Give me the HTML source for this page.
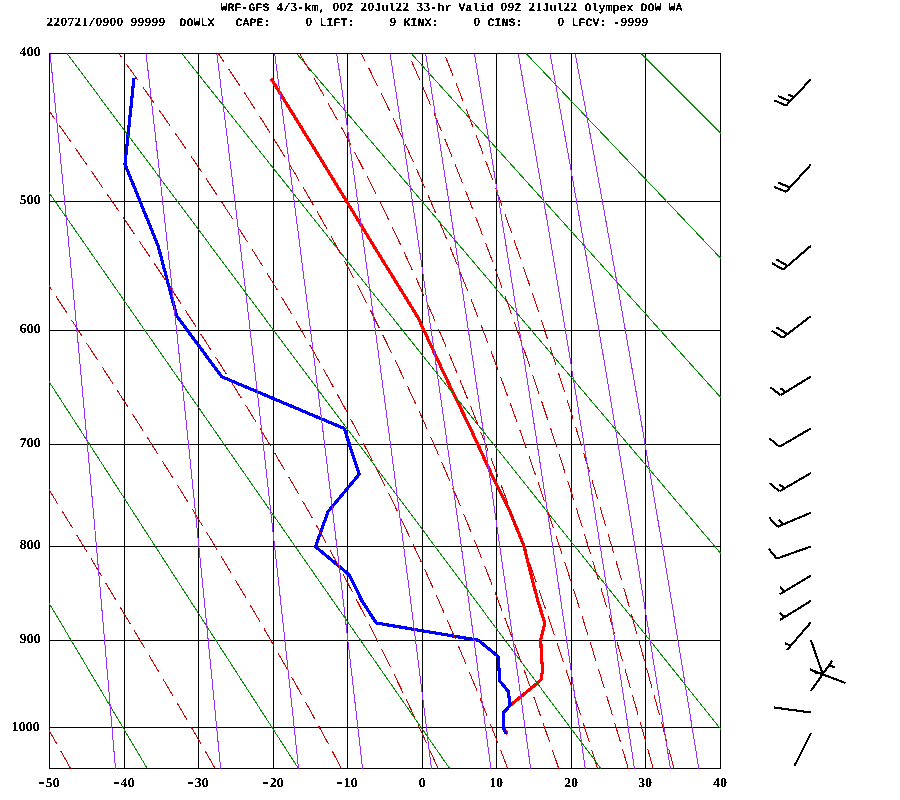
<!DOCTYPE html>
<html><head><meta charset="utf-8"><title>Sounding</title>
<style>
html,body{margin:0;padding:0;background:#fff;}
svg{display:block}
text{font-family:"Liberation Mono",monospace;font-weight:bold;font-size:11.5px;fill:#000;letter-spacing:-0.2px}
.d{font-family:"Liberation Serif",serif;font-size:12.6px;letter-spacing:0}
.D{font-family:"Liberation Serif",serif;font-size:13.5px;letter-spacing:0}
.g{text-rendering:geometricPrecision}
.h{font-size:16px;letter-spacing:0}
</style></head><body>
<svg width="900" height="800" viewBox="0 0 900 800" shape-rendering="crispEdges">
<defs><filter id="t" x="0" y="0" width="900" height="800" filterUnits="userSpaceOnUse" color-interpolation-filters="sRGB"><feComponentTransfer><feFuncA type="discrete" tableValues="0 0 1 1 1"/></feComponentTransfer></filter><clipPath id="c"><rect x="49" y="53" width="672" height="716"/></clipPath></defs>
<rect width="900" height="800" fill="#fff"/>
<rect x="49" y="53" width="1" height="716" fill="#000"/>
<rect x="124" y="53" width="1" height="716" fill="#000"/>
<rect x="198" y="53" width="1" height="716" fill="#000"/>
<rect x="273" y="53" width="1" height="716" fill="#000"/>
<rect x="347" y="53" width="1" height="716" fill="#000"/>
<rect x="422" y="53" width="1" height="716" fill="#000"/>
<rect x="496" y="53" width="1" height="716" fill="#000"/>
<rect x="571" y="53" width="1" height="716" fill="#000"/>
<rect x="645" y="53" width="1" height="716" fill="#000"/>
<rect x="720" y="53" width="1" height="716" fill="#000"/>
<rect x="49" y="53" width="672" height="1" fill="#000"/>
<rect x="49" y="201" width="672" height="1" fill="#000"/>
<rect x="49" y="330" width="672" height="1" fill="#000"/>
<rect x="49" y="444" width="672" height="1" fill="#000"/>
<rect x="49" y="546" width="672" height="1" fill="#000"/>
<rect x="49" y="640" width="672" height="1" fill="#000"/>
<rect x="49" y="727" width="672" height="1" fill="#000"/>
<rect x="49" y="768" width="672" height="1" fill="#000"/>
<polyline points="271,78.5 324,164.25 373.5,245.5 418,317.5 445.5,376.75 470.5,428.5 491.5,474.25 510,511.75 524.25,546.75 531,574.75 537.8,600.5 544.8,623.25 540.75,639.9 541.5,656.75 542.6,669.9 541.1,679.25 536.5,683.9 521.5,696.1 510.2,705.5 503.25,712.6 503.25,728 507.4,734" stroke="#ff0000" stroke-width="3.2" fill="none" stroke-linejoin="round"/>
<polyline points="134,78 125,164.25 158,245.5 176.75,316 221.75,376.75 344.25,428.5 359.25,474.25 328,511.75 315.5,546.75 349.25,574.75 361.75,600.5 376.25,623 478.3,640.25 498,656.4 499.9,681.1 508.3,691.4 510.2,705.5 503.25,712.6 503.25,728 506.4,734" stroke="#0000ff" stroke-width="3.2" fill="none" stroke-linejoin="round"/>
<g clip-path="url(#c)">
<polyline points="-391.95,53.6 -3.88,768.6" stroke="#008b00" stroke-width="1" fill="none"/>
<polyline points="-277.18,53.6 147.32,768.6" stroke="#008b00" stroke-width="1" fill="none"/>
<polyline points="-162.42,53.6 298.53,768.6" stroke="#008b00" stroke-width="1" fill="none"/>
<polyline points="-47.65,53.6 449.73,768.6" stroke="#008b00" stroke-width="1" fill="none"/>
<polyline points="67.11,53.6 600.94,768.6" stroke="#008b00" stroke-width="1" fill="none"/>
<polyline points="181.88,53.6 752.14,768.6" stroke="#008b00" stroke-width="1" fill="none"/>
<polyline points="296.64,53.6 903.34,768.6" stroke="#008b00" stroke-width="1" fill="none"/>
<polyline points="411.41,53.6 1054.55,768.6" stroke="#008b00" stroke-width="1" fill="none"/>
<polyline points="526.18,53.6 1205.75,768.6" stroke="#008b00" stroke-width="1" fill="none"/>
<polyline points="640.94,53.6 1356.96,768.6" stroke="#008b00" stroke-width="1" fill="none"/>
<polyline points="755.71,53.6 1508.16,768.6" stroke="#008b00" stroke-width="1" fill="none"/>
<polyline points="870.47,53.6 1659.37,768.6" stroke="#008b00" stroke-width="1" fill="none"/>
<polyline points="985.24,53.6 1810.57,768.6" stroke="#008b00" stroke-width="1" fill="none"/>
<polyline points="70.63,768.6 66.09,760.5 61.51,752.34 56.9,744.13 52.26,735.86 47.57,727.53 42.86,719.14 38.1,710.69 33.31,702.18 28.48,693.6 23.61,684.96 18.7,676.26 13.75,667.49 8.77,658.65 3.74,649.74 -1.33,640.76 -6.45,631.71 -11.6,622.59 -16.8,613.39 -22.05,604.12 -27.34,594.77 -32.67,585.34 -38.06,575.84 -43.49,566.24 -48.97,556.57 -54.5,546.81 -60.08,536.96 -65.71,527.02 -71.39,516.99 -77.13,506.87 -82.93,496.65 -88.78,486.34 -94.69,475.92 -100.66,465.4 -106.68,454.78 -112.77,444.05 -118.93,433.21 -125.14,422.25 -131.43,411.18 -137.78,400 -144.2,388.69 -150.69,377.25 -157.26,365.69 -163.9,353.99 -170.62,342.16 -177.42,330.19 -184.3,318.08 -191.26,305.82 -198.31,293.41 -205.45,280.84 -212.69,268.11 -220.01,255.21 -227.44,242.14 -234.96,228.9 -242.59,215.47 -250.33,201.85 -258.18,188.04 -266.15,174.02 -274.23,159.79 -282.44,145.34 -290.77,130.67 -299.24,115.77 -307.85,100.62 -316.61,85.21 -325.51,69.54 -334.57,53.6" stroke="#cd0000" stroke-width="1" fill="none" stroke-dasharray="20 8"/>
<polyline points="215.22,768.6 210.57,760.5 205.87,752.34 201.12,744.13 196.33,735.86 191.48,727.53 186.6,719.14 181.66,710.69 176.67,702.18 171.64,693.6 166.55,684.96 161.41,676.26 156.23,667.49 150.99,658.65 145.7,649.74 140.35,640.76 134.96,631.71 129.51,622.59 124,613.39 118.44,604.12 112.82,594.77 107.14,585.34 101.41,575.84 95.62,566.24 89.77,556.57 83.86,546.81 77.89,536.96 71.85,527.02 65.75,516.99 59.59,506.87 53.36,496.65 47.07,486.34 40.71,475.92 34.28,465.4 27.77,454.78 21.2,444.05 14.56,433.21 7.84,422.25 1.04,411.18 -5.83,400 -12.79,388.69 -19.82,377.25 -26.94,365.69 -34.14,353.99 -41.43,342.16 -48.81,330.19 -56.28,318.08 -63.84,305.82 -71.51,293.41 -79.27,280.84 -87.13,268.11 -95.09,255.21 -103.17,242.14 -111.36,228.9 -119.66,215.47 -128.08,201.85 -136.62,188.04 -145.29,174.02 -154.1,159.79 -163.03,145.34 -172.11,130.67 -181.34,115.77 -190.71,100.62 -200.25,85.21 -209.95,69.54 -219.81,53.6" stroke="#cd0000" stroke-width="1" fill="none" stroke-dasharray="20 8"/>
<polyline points="341.46,768.6 337.19,760.5 332.86,752.34 328.48,744.13 324.04,735.86 319.53,727.53 314.97,719.14 310.34,710.69 305.66,702.18 300.91,693.6 296.09,684.96 291.21,676.26 286.26,667.49 281.25,658.65 276.16,649.74 271.01,640.76 265.79,631.71 260.49,622.59 255.12,613.39 249.67,604.12 244.15,594.77 238.56,585.34 232.88,575.84 227.13,566.24 221.3,556.57 215.39,546.81 209.39,536.96 203.31,527.02 197.15,516.99 190.9,506.87 184.56,496.65 178.14,486.34 171.63,475.92 165.02,465.4 158.33,454.78 151.54,444.05 144.65,433.21 137.68,422.25 130.6,411.18 123.42,400 116.15,388.69 108.77,377.25 101.29,365.69 93.7,353.99 86.01,342.16 78.2,330.19 70.29,318.08 62.26,305.82 54.12,293.41 45.85,280.84 37.47,268.11 28.96,255.21 20.33,242.14 11.57,228.9 2.67,215.47 -6.36,201.85 -15.54,188.04 -24.86,174.02 -34.32,159.79 -43.94,145.34 -53.72,130.67 -63.66,115.77 -73.77,100.62 -84.06,85.21 -94.52,69.54 -105.18,53.6" stroke="#cd0000" stroke-width="1" fill="none" stroke-dasharray="20 8"/>
<polyline points="438.08,768.6 434.45,760.5 430.76,752.34 427.03,744.13 423.23,735.86 419.39,727.53 415.48,719.14 411.52,710.69 407.5,702.18 403.41,693.6 399.26,684.96 395.05,676.26 390.77,667.49 386.42,658.65 382,649.74 377.51,640.76 372.95,631.71 368.31,622.59 363.59,613.39 358.79,604.12 353.91,594.77 348.94,585.34 343.89,575.84 338.75,566.24 333.52,556.57 328.2,546.81 322.78,536.96 317.27,527.02 311.65,516.99 305.93,506.87 300.11,496.65 294.17,486.34 288.13,475.92 281.97,465.4 275.7,454.78 269.31,444.05 262.8,433.21 256.17,422.25 249.41,411.18 242.52,400 235.49,388.69 228.34,377.25 221.04,365.69 213.61,353.99 206.03,342.16 198.31,330.19 190.44,318.08 182.42,305.82 174.25,293.41 165.91,280.84 157.42,268.11 148.77,255.21 139.95,242.14 130.96,228.9 121.81,215.47 112.47,201.85 102.96,188.04 93.27,174.02 83.39,159.79 73.32,145.34 63.05,130.67 52.59,115.77 41.92,100.62 31.05,85.21 19.96,69.54 8.65,53.6" stroke="#cd0000" stroke-width="1" fill="none" stroke-dasharray="20 8"/>
<polyline points="507.73,768.6 504.62,760.5 501.47,752.34 498.27,744.13 495.04,735.86 491.75,727.53 488.42,719.14 485.04,710.69 481.62,702.18 478.14,693.6 474.61,684.96 471.03,676.26 467.39,667.49 463.7,658.65 459.94,649.74 456.13,640.76 452.26,631.71 448.32,622.59 444.31,613.39 440.24,604.12 436.1,594.77 431.89,585.34 427.6,575.84 423.23,566.24 418.78,556.57 414.26,546.81 409.64,536.96 404.94,527.02 400.15,516.99 395.26,506.87 390.28,496.65 385.19,486.34 380.01,475.92 374.71,465.4 369.3,454.78 363.78,444.05 358.13,433.21 352.37,422.25 346.47,411.18 340.44,400 334.27,388.69 327.96,377.25 321.5,365.69 314.89,353.99 308.12,342.16 301.19,330.19 294.09,318.08 286.81,305.82 279.35,293.41 271.7,280.84 263.86,268.11 255.82,255.21 247.58,242.14 239.12,228.9 230.45,215.47 221.55,201.85 212.42,188.04 203.05,174.02 193.44,159.79 183.58,145.34 173.46,130.67 163.08,115.77 152.44,100.62 141.51,85.21 130.31,69.54 118.82,53.6" stroke="#cd0000" stroke-width="1" fill="none" stroke-dasharray="20 8"/>
<polyline points="558.75,768.6 555.99,760.5 553.2,752.34 550.37,744.13 547.5,735.86 544.6,727.53 541.66,719.14 538.69,710.69 535.67,702.18 532.61,693.6 529.51,684.96 526.37,676.26 523.18,667.49 519.95,658.65 516.67,649.74 513.35,640.76 509.97,631.71 506.54,622.59 503.06,613.39 499.52,604.12 495.93,594.77 492.28,585.34 488.57,575.84 484.79,566.24 480.95,556.57 477.05,546.81 473.08,536.96 469.03,527.02 464.92,516.99 460.72,506.87 456.45,496.65 452.09,486.34 447.65,475.92 443.13,465.4 438.5,454.78 433.79,444.05 428.97,433.21 424.05,422.25 419.02,411.18 413.88,400 408.63,388.69 403.25,377.25 397.74,365.69 392.11,353.99 386.33,342.16 380.4,330.19 374.33,318.08 368.1,305.82 361.7,293.41 355.13,280.84 348.37,268.11 341.43,255.21 334.29,242.14 326.93,228.9 319.36,215.47 311.56,201.85 303.52,188.04 295.23,174.02 286.67,159.79 277.84,145.34 268.73,130.67 259.31,115.77 249.57,100.62 239.51,85.21 229.11,69.54 218.35,53.6" stroke="#cd0000" stroke-width="1" fill="none" stroke-dasharray="20 8"/>
<polyline points="597.59,768.6 595.06,760.5 592.5,752.34 589.92,744.13 587.3,735.86 584.65,727.53 581.97,719.14 579.26,710.69 576.51,702.18 573.73,693.6 570.92,684.96 568.07,676.26 565.18,667.49 562.25,658.65 559.28,649.74 556.28,640.76 553.23,631.71 550.14,622.59 547.01,613.39 543.83,604.12 540.6,594.77 537.33,585.34 534.01,575.84 530.63,566.24 527.2,556.57 523.72,546.81 520.19,536.96 516.59,527.02 512.93,516.99 509.21,506.87 505.43,496.65 501.58,486.34 497.66,475.92 493.67,465.4 489.61,454.78 485.46,444.05 481.24,433.21 476.93,422.25 472.54,411.18 468.05,400 463.47,388.69 458.79,377.25 454.01,365.69 449.12,353.99 444.12,342.16 439,330.19 433.75,318.08 428.38,305.82 422.87,293.41 417.22,280.84 411.42,268.11 405.46,255.21 399.34,242.14 393.04,228.9 386.56,215.47 379.89,201.85 373,188.04 365.91,174.02 358.58,159.79 351.01,145.34 343.18,130.67 335.07,115.77 326.68,100.62 317.98,85.21 308.95,69.54 299.57,53.6" stroke="#cd0000" stroke-width="1" fill="none" stroke-dasharray="20 8"/>
<polyline points="628.27,768.6 625.89,760.5 623.5,752.34 621.07,744.13 618.62,735.86 616.15,727.53 613.64,719.14 611.11,710.69 608.55,702.18 605.95,693.6 603.33,684.96 600.68,676.26 597.99,667.49 595.27,658.65 592.51,649.74 589.72,640.76 586.9,631.71 584.04,622.59 581.14,613.39 578.2,604.12 575.22,594.77 572.2,585.34 569.14,575.84 566.03,566.24 562.88,556.57 559.68,546.81 556.43,536.96 553.14,527.02 549.79,516.99 546.39,506.87 542.94,496.65 539.43,486.34 535.86,475.92 532.23,465.4 528.54,454.78 524.78,444.05 520.96,433.21 517.06,422.25 513.09,411.18 509.05,400 504.93,388.69 500.73,377.25 496.44,365.69 492.06,353.99 487.59,342.16 483.03,330.19 478.36,318.08 473.59,305.82 468.7,293.41 463.7,280.84 458.58,268.11 453.33,255.21 447.94,242.14 442.41,228.9 436.73,215.47 430.9,201.85 424.89,188.04 418.71,174.02 412.35,159.79 405.78,145.34 399,130.67 392,115.77 384.76,100.62 377.26,85.21 369.49,69.54 361.43,53.6" stroke="#cd0000" stroke-width="1" fill="none" stroke-dasharray="20 8"/>
<polyline points="653.24,768.6 650.97,760.5 648.69,752.34 646.38,744.13 644.05,735.86 641.7,727.53 639.31,719.14 636.91,710.69 634.47,702.18 632.01,693.6 629.52,684.96 627.01,676.26 624.46,667.49 621.88,658.65 619.28,649.74 616.64,640.76 613.97,631.71 611.27,622.59 608.53,613.39 605.76,604.12 602.95,594.77 600.11,585.34 597.22,575.84 594.3,566.24 591.34,556.57 588.34,546.81 585.3,536.96 582.21,527.02 579.07,516.99 575.89,506.87 572.67,496.65 569.39,486.34 566.06,475.92 562.68,465.4 559.24,454.78 555.75,444.05 552.2,433.21 548.59,422.25 544.91,411.18 541.17,400 537.37,388.69 533.49,377.25 529.54,365.69 525.51,353.99 521.4,342.16 517.21,330.19 512.94,318.08 508.57,305.82 504.11,293.41 499.56,280.84 494.9,268.11 490.13,255.21 485.25,242.14 480.25,228.9 475.12,215.47 469.86,201.85 464.47,188.04 458.93,174.02 453.23,159.79 447.37,145.34 441.34,130.67 435.12,115.77 428.7,100.62 422.07,85.21 415.23,69.54 408.14,53.6" stroke="#cd0000" stroke-width="1" fill="none" stroke-dasharray="20 8"/>
<polyline points="674.05,768.6 671.87,760.5 669.67,752.34 667.45,744.13 665.21,735.86 662.94,727.53 660.65,719.14 658.33,710.69 655.99,702.18 653.63,693.6 651.23,684.96 648.82,676.26 646.37,667.49 643.9,658.65 641.4,649.74 638.88,640.76 636.32,631.71 633.73,622.59 631.11,613.39 628.46,604.12 625.78,594.77 623.06,585.34 620.31,575.84 617.52,566.24 614.69,556.57 611.83,546.81 608.93,536.96 605.99,527.02 603.01,516.99 599.99,506.87 596.92,496.65 593.81,486.34 590.65,475.92 587.45,465.4 584.19,454.78 580.89,444.05 577.53,433.21 574.12,422.25 570.65,411.18 567.12,400 563.54,388.69 559.89,377.25 556.17,365.69 552.39,353.99 548.54,342.16 544.61,330.19 540.61,318.08 536.53,305.82 532.37,293.41 528.12,280.84 523.78,268.11 519.35,255.21 514.82,242.14 510.18,228.9 505.44,215.47 500.59,201.85 495.61,188.04 490.51,174.02 485.28,159.79 479.91,145.34 474.39,130.67 468.71,115.77 462.86,100.62 456.84,85.21 450.64,69.54 444.23,53.6" stroke="#cd0000" stroke-width="1" fill="none" stroke-dasharray="20 8"/>
<polyline points="50.11,53.6 51.71,69.54 53.28,85.21 54.81,100.62 56.31,115.77 57.78,130.67 59.22,145.34 60.64,159.79 62.02,174.02 63.38,188.04 64.72,201.85 66.03,215.47 67.32,228.9 68.58,242.14 69.82,255.21 71.05,268.11 72.25,280.84 73.43,293.41 74.6,305.82 75.74,318.08 76.87,330.19 77.98,342.16 79.08,353.99 80.16,365.69 81.22,377.25 82.27,388.69 83.31,400 84.33,411.18 85.33,422.25 86.33,433.21 87.31,444.05 88.27,454.78 89.23,465.4 90.17,475.92 91.1,486.34 92.02,496.65 92.93,506.87 93.83,516.99 94.72,527.02 95.59,536.96 96.46,546.81 97.32,556.57 98.16,566.24 99,575.84 99.83,585.34 100.65,594.77 101.46,604.12 102.27,613.39 103.06,622.59 103.85,631.71 104.62,640.76 105.4,649.74 106.16,658.65 106.91,667.49 107.66,676.26 108.4,684.96 109.14,693.6 109.86,702.18 110.58,710.69 111.3,719.14 112,727.53 112.7,735.86 113.4,744.13 114.09,752.34 114.77,760.5 115.44,768.6" stroke="#9b2ff8" stroke-width="1" fill="none"/>
<polyline points="146.08,53.6 147.9,69.54 149.68,85.21 151.43,100.62 153.14,115.77 154.81,130.67 156.45,145.34 158.06,159.79 159.64,174.02 161.19,188.04 162.71,201.85 164.2,215.47 165.67,228.9 167.11,242.14 168.52,255.21 169.92,268.11 171.29,280.84 172.64,293.41 173.96,305.82 175.27,318.08 176.56,330.19 177.83,342.16 179.07,353.99 180.31,365.69 181.52,377.25 182.72,388.69 183.9,400 185.06,411.18 186.21,422.25 187.34,433.21 188.46,444.05 189.56,454.78 190.65,465.4 191.73,475.92 192.79,486.34 193.84,496.65 194.88,506.87 195.91,516.99 196.92,527.02 197.92,536.96 198.91,546.81 199.89,556.57 200.86,566.24 201.82,575.84 202.76,585.34 203.7,594.77 204.63,604.12 205.55,613.39 206.45,622.59 207.35,631.71 208.24,640.76 209.12,649.74 210,658.65 210.86,667.49 211.71,676.26 212.56,684.96 213.4,693.6 214.23,702.18 215.05,710.69 215.87,719.14 216.68,727.53 217.48,735.86 218.27,744.13 219.06,752.34 219.84,760.5 220.62,768.6" stroke="#9b2ff8" stroke-width="1" fill="none"/>
<polyline points="216.78,53.6 218.78,69.54 220.73,85.21 222.64,100.62 224.51,115.77 226.34,130.67 228.14,145.34 229.9,159.79 231.63,174.02 233.32,188.04 234.99,201.85 236.62,215.47 238.23,228.9 239.81,242.14 241.36,255.21 242.89,268.11 244.39,280.84 245.86,293.41 247.32,305.82 248.75,318.08 250.16,330.19 251.55,342.16 252.92,353.99 254.27,365.69 255.6,377.25 256.91,388.69 258.21,400 259.48,411.18 260.74,422.25 261.98,433.21 263.21,444.05 264.42,454.78 265.62,465.4 266.8,475.92 267.96,486.34 269.12,496.65 270.25,506.87 271.38,516.99 272.49,527.02 273.59,536.96 274.68,546.81 275.75,556.57 276.81,566.24 277.87,575.84 278.91,585.34 279.93,594.77 280.95,604.12 281.96,613.39 282.96,622.59 283.94,631.71 284.92,640.76 285.89,649.74 286.84,658.65 287.79,667.49 288.73,676.26 289.66,684.96 290.58,693.6 291.5,702.18 292.4,710.69 293.3,719.14 294.19,727.53 295.07,735.86 295.94,744.13 296.8,752.34 297.66,760.5 298.51,768.6" stroke="#9b2ff8" stroke-width="1" fill="none"/>
<polyline points="274.67,53.6 276.81,69.54 278.9,85.21 280.95,100.62 282.96,115.77 284.93,130.67 286.86,145.34 288.75,159.79 290.6,174.02 292.42,188.04 294.21,201.85 295.97,215.47 297.69,228.9 299.39,242.14 301.06,255.21 302.7,268.11 304.31,280.84 305.9,293.41 307.46,305.82 309,318.08 310.52,330.19 312.01,342.16 313.48,353.99 314.93,365.69 316.36,377.25 317.77,388.69 319.16,400 320.54,411.18 321.89,422.25 323.23,433.21 324.54,444.05 325.85,454.78 327.13,465.4 328.4,475.92 329.66,486.34 330.9,496.65 332.12,506.87 333.33,516.99 334.53,527.02 335.71,536.96 336.88,546.81 338.04,556.57 339.18,566.24 340.31,575.84 341.43,585.34 342.54,594.77 343.63,604.12 344.72,613.39 345.79,622.59 346.85,631.71 347.9,640.76 348.94,649.74 349.98,658.65 351,667.49 352.01,676.26 353.01,684.96 354,693.6 354.98,702.18 355.96,710.69 356.92,719.14 357.88,727.53 358.83,735.86 359.77,744.13 360.7,752.34 361.62,760.5 362.54,768.6" stroke="#9b2ff8" stroke-width="1" fill="none"/>
<polyline points="336.72,53.6 339.02,69.54 341.28,85.21 343.48,100.62 345.64,115.77 347.76,130.67 349.84,145.34 351.87,159.79 353.87,174.02 355.83,188.04 357.75,201.85 359.65,215.47 361.5,228.9 363.33,242.14 365.13,255.21 366.89,268.11 368.63,280.84 370.34,293.41 372.03,305.82 373.68,318.08 375.32,330.19 376.93,342.16 378.51,353.99 380.08,365.69 381.62,377.25 383.14,388.69 384.64,400 386.12,411.18 387.57,422.25 389.02,433.21 390.44,444.05 391.84,454.78 393.23,465.4 394.6,475.92 395.95,486.34 397.29,496.65 398.61,506.87 399.91,516.99 401.2,527.02 402.48,536.96 403.74,546.81 404.99,556.57 406.22,566.24 407.44,575.84 408.65,585.34 409.84,594.77 411.03,604.12 412.2,613.39 413.35,622.59 414.5,631.71 415.64,640.76 416.76,649.74 417.87,658.65 418.98,667.49 420.07,676.26 421.15,684.96 422.22,693.6 423.28,702.18 424.33,710.69 425.37,719.14 426.41,727.53 427.43,735.86 428.45,744.13 429.45,752.34 430.45,760.5 431.44,768.6" stroke="#9b2ff8" stroke-width="1" fill="none"/>
<polyline points="390.08,53.6 392.52,69.54 394.92,85.21 397.26,100.62 399.56,115.77 401.81,130.67 404.02,145.34 406.18,159.79 408.3,174.02 410.39,188.04 412.43,201.85 414.45,215.47 416.42,228.9 418.36,242.14 420.27,255.21 422.15,268.11 424,280.84 425.82,293.41 427.61,305.82 429.38,318.08 431.12,330.19 432.83,342.16 434.52,353.99 436.18,365.69 437.82,377.25 439.44,388.69 441.04,400 442.61,411.18 444.16,422.25 445.7,433.21 447.21,444.05 448.71,454.78 450.18,465.4 451.64,475.92 453.08,486.34 454.5,496.65 455.91,506.87 457.3,516.99 458.68,527.02 460.03,536.96 461.38,546.81 462.71,556.57 464.02,566.24 465.32,575.84 466.61,585.34 467.88,594.77 469.14,604.12 470.39,613.39 471.62,622.59 472.84,631.71 474.05,640.76 475.25,649.74 476.44,658.65 477.61,667.49 478.77,676.26 479.93,684.96 481.07,693.6 482.2,702.18 483.32,710.69 484.43,719.14 485.53,727.53 486.62,735.86 487.7,744.13 488.78,752.34 489.84,760.5 490.89,768.6" stroke="#9b2ff8" stroke-width="1" fill="none"/>
<polyline points="425.66,53.6 428.2,69.54 430.69,85.21 433.13,100.62 435.52,115.77 437.86,130.67 440.16,145.34 442.41,159.79 444.62,174.02 446.79,188.04 448.92,201.85 451.02,215.47 453.07,228.9 455.09,242.14 457.08,255.21 459.04,268.11 460.96,280.84 462.86,293.41 464.72,305.82 466.56,318.08 468.37,330.19 470.15,342.16 471.91,353.99 473.64,365.69 475.35,377.25 477.04,388.69 478.7,400 480.34,411.18 481.96,422.25 483.56,433.21 485.13,444.05 486.69,454.78 488.23,465.4 489.75,475.92 491.25,486.34 492.73,496.65 494.2,506.87 495.64,516.99 497.08,527.02 498.49,536.96 499.89,546.81 501.28,556.57 502.65,566.24 504,575.84 505.34,585.34 506.67,594.77 507.98,604.12 509.28,613.39 510.57,622.59 511.84,631.71 513.1,640.76 514.35,649.74 515.58,658.65 516.81,667.49 518.02,676.26 519.22,684.96 520.41,693.6 521.59,702.18 522.76,710.69 523.92,719.14 525.07,727.53 526.2,735.86 527.33,744.13 528.45,752.34 529.56,760.5 530.66,768.6" stroke="#9b2ff8" stroke-width="1" fill="none"/>
<polyline points="474.42,53.6 477.11,69.54 479.74,85.21 482.31,100.62 484.83,115.77 487.3,130.67 489.72,145.34 492.09,159.79 494.43,174.02 496.71,188.04 498.96,201.85 501.17,215.47 503.34,228.9 505.48,242.14 507.57,255.21 509.64,268.11 511.67,280.84 513.67,293.41 515.64,305.82 517.58,318.08 519.49,330.19 521.37,342.16 523.23,353.99 525.06,365.69 526.86,377.25 528.64,388.69 530.39,400 532.13,411.18 533.83,422.25 535.52,433.21 537.19,444.05 538.83,454.78 540.46,465.4 542.06,475.92 543.65,486.34 545.21,496.65 546.76,506.87 548.29,516.99 549.8,527.02 551.3,536.96 552.78,546.81 554.24,556.57 555.69,566.24 557.12,575.84 558.54,585.34 559.94,594.77 561.33,604.12 562.7,613.39 564.06,622.59 565.41,631.71 566.74,640.76 568.06,649.74 569.36,658.65 570.66,667.49 571.94,676.26 573.21,684.96 574.47,693.6 575.72,702.18 576.95,710.69 578.18,719.14 579.39,727.53 580.59,735.86 581.79,744.13 582.97,752.34 584.14,760.5 585.3,768.6" stroke="#9b2ff8" stroke-width="1" fill="none"/>
<polyline points="518.15,53.6 520.97,69.54 523.72,85.21 526.41,100.62 529.05,115.77 531.64,130.67 534.18,145.34 536.67,159.79 539.11,174.02 541.51,188.04 543.86,201.85 546.18,215.47 548.45,228.9 550.69,242.14 552.89,255.21 555.05,268.11 557.18,280.84 559.28,293.41 561.35,305.82 563.38,318.08 565.38,330.19 567.36,342.16 569.3,353.99 571.22,365.69 573.11,377.25 574.98,388.69 576.82,400 578.63,411.18 580.43,422.25 582.2,433.21 583.94,444.05 585.67,454.78 587.37,465.4 589.06,475.92 590.72,486.34 592.36,496.65 593.99,506.87 595.59,516.99 597.18,527.02 598.75,536.96 600.3,546.81 601.84,556.57 603.36,566.24 604.86,575.84 606.35,585.34 607.82,594.77 609.27,604.12 610.72,613.39 612.14,622.59 613.56,631.71 614.95,640.76 616.34,649.74 617.71,658.65 619.07,667.49 620.42,676.26 621.75,684.96 623.07,693.6 624.38,702.18 625.68,710.69 626.96,719.14 628.24,727.53 629.5,735.86 630.75,744.13 632,752.34 633.23,760.5 634.45,768.6" stroke="#9b2ff8" stroke-width="1" fill="none"/>
<polyline points="550.04,53.6 552.94,69.54 555.79,85.21 558.57,100.62 561.3,115.77 563.98,130.67 566.6,145.34 569.18,159.79 571.7,174.02 574.18,188.04 576.62,201.85 579.01,215.47 581.36,228.9 583.68,242.14 585.95,255.21 588.19,268.11 590.39,280.84 592.56,293.41 594.7,305.82 596.8,318.08 598.87,330.19 600.91,342.16 602.93,353.99 604.91,365.69 606.87,377.25 608.8,388.69 610.7,400 612.58,411.18 614.44,422.25 616.27,433.21 618.08,444.05 619.86,454.78 621.63,465.4 623.37,475.92 625.09,486.34 626.79,496.65 628.47,506.87 630.14,516.99 631.78,527.02 633.4,536.96 635.01,546.81 636.6,556.57 638.17,566.24 639.73,575.84 641.27,585.34 642.79,594.77 644.3,604.12 645.79,613.39 647.27,622.59 648.73,631.71 650.18,640.76 651.61,649.74 653.03,658.65 654.44,667.49 655.83,676.26 657.21,684.96 658.58,693.6 659.94,702.18 661.28,710.69 662.61,719.14 663.93,727.53 665.24,735.86 666.54,744.13 667.83,752.34 669.1,760.5 670.37,768.6" stroke="#9b2ff8" stroke-width="1" fill="none"/>
<polyline points="575.19,53.6 578.18,69.54 581.09,85.21 583.95,100.62 586.75,115.77 589.5,130.67 592.19,145.34 594.83,159.79 597.43,174.02 599.97,188.04 602.47,201.85 604.93,215.47 607.34,228.9 609.72,242.14 612.05,255.21 614.35,268.11 616.61,280.84 618.84,293.41 621.03,305.82 623.19,318.08 625.32,330.19 627.42,342.16 629.48,353.99 631.52,365.69 633.53,377.25 635.51,388.69 637.47,400 639.4,411.18 641.3,422.25 643.18,433.21 645.04,444.05 646.87,454.78 648.68,465.4 650.47,475.92 652.24,486.34 653.99,496.65 655.72,506.87 657.42,516.99 659.11,527.02 660.78,536.96 662.43,546.81 664.06,556.57 665.68,566.24 667.28,575.84 668.86,585.34 670.42,594.77 671.97,604.12 673.5,613.39 675.02,622.59 676.52,631.71 678.01,640.76 679.49,649.74 680.95,658.65 682.39,667.49 683.82,676.26 685.24,684.96 686.65,693.6 688.04,702.18 689.42,710.69 690.79,719.14 692.15,727.53 693.49,735.86 694.82,744.13 696.15,752.34 697.46,760.5 698.76,768.6" stroke="#9b2ff8" stroke-width="1" fill="none"/>
</g>
<polyline points="810.9,79.25 786.1,105.5" stroke="#000" stroke-width="2.1" fill="none"/>
<polyline points="786.1,105.5 774.17,100.34" stroke="#000" stroke-width="2.1" fill="none"/>
<polyline points="790.08,101.28 778.15,96.13" stroke="#000" stroke-width="2.1" fill="none"/>
<polyline points="794.07,97.07 788.1,94.49" stroke="#000" stroke-width="2.1" fill="none"/>
<polyline points="810.9,164.5 786.1,191.75" stroke="#000" stroke-width="2.1" fill="none"/>
<polyline points="786.1,191.75 774.07,186.82" stroke="#000" stroke-width="2.1" fill="none"/>
<polyline points="790,187.46 777.98,182.53" stroke="#000" stroke-width="2.1" fill="none"/>
<polyline points="810.9,245.8 783.3,269.6" stroke="#000" stroke-width="2.1" fill="none"/>
<polyline points="783.3,269.6 771.96,263.25" stroke="#000" stroke-width="2.1" fill="none"/>
<polyline points="787.69,265.81 776.35,259.46" stroke="#000" stroke-width="2.1" fill="none"/>
<polyline points="810.9,316.1 782.75,337.7" stroke="#000" stroke-width="2.1" fill="none"/>
<polyline points="782.75,337.7 771.79,330.72" stroke="#000" stroke-width="2.1" fill="none"/>
<polyline points="787.35,334.17 776.39,327.18" stroke="#000" stroke-width="2.1" fill="none"/>
<polyline points="810.9,376.5 780.5,395.2" stroke="#000" stroke-width="2.1" fill="none"/>
<polyline points="780.5,395.2 770.31,387.12" stroke="#000" stroke-width="2.1" fill="none"/>
<polyline points="785.44,392.16 780.35,388.12" stroke="#000" stroke-width="2.1" fill="none"/>
<polyline points="810.9,428.4 779.5,446.75" stroke="#000" stroke-width="2.1" fill="none"/>
<polyline points="779.5,446.75 769.5,438.45" stroke="#000" stroke-width="2.1" fill="none"/>
<polyline points="810.9,473 779.5,491.4" stroke="#000" stroke-width="2.1" fill="none"/>
<polyline points="779.5,491.4 769.49,483.11" stroke="#000" stroke-width="2.1" fill="none"/>
<polyline points="784.5,488.47 779.5,484.32" stroke="#000" stroke-width="2.1" fill="none"/>
<polyline points="810.9,512.7 777.7,526.75" stroke="#000" stroke-width="2.1" fill="none"/>
<polyline points="777.7,526.75 768.84,517.23" stroke="#000" stroke-width="2.1" fill="none"/>
<polyline points="783.04,524.49 778.61,519.73" stroke="#000" stroke-width="2.1" fill="none"/>
<polyline points="810.9,546.5 776.75,558.6" stroke="#000" stroke-width="2.1" fill="none"/>
<polyline points="776.75,558.6 768.48,548.57" stroke="#000" stroke-width="2.1" fill="none"/>
<polyline points="810.9,575.5 779.9,594.25" stroke="#000" stroke-width="2.1" fill="none"/>
<polyline points="784.86,591.25 779.8,587.17" stroke="#000" stroke-width="2.1" fill="none"/>
<polyline points="810.9,600.8 779.9,620.1" stroke="#000" stroke-width="2.1" fill="none"/>
<polyline points="784.82,617.03 779.71,613.02" stroke="#000" stroke-width="2.1" fill="none"/>
<polyline points="810.9,622.3 787,650" stroke="#000" stroke-width="2.1" fill="none"/>
<polyline points="790.79,645.61 784.71,643.3" stroke="#000" stroke-width="2.1" fill="none"/>
<polyline points="810.9,640.1 823.1,675.1" stroke="#000" stroke-width="2.1" fill="none"/>
<polyline points="810.9,690.9 832.25,660.7" stroke="#000" stroke-width="2.1" fill="none"/>
<polyline points="828.9,665.44 835.17,667.15" stroke="#000" stroke-width="2.1" fill="none"/>
<polyline points="810.9,712.5 774.1,707.5" stroke="#000" stroke-width="2.1" fill="none"/>
<polyline points="810.9,733.1 794.5,765.9" stroke="#000" stroke-width="2.1" fill="none"/>
<polyline points="809.9,669.4 845.4,683" stroke="#000" stroke-width="2.1" fill="none"/>
<polyline points="814.5,672.3 822.5,673.7" stroke="#000" stroke-width="2.1" fill="none"/>
<g filter="url(#t)">
<text class="g" y="11"><tspan x="220.5 227.5 234.5 241.5 248.5 255.5 262.5">WRF-GFS</tspan> <tspan class="d" x="276.75">4</tspan><tspan x="283.5">/</tspan><tspan class="d" x="290.75">3</tspan><tspan x="297.5 304.5 311.5 318.5">-km,</tspan> <tspan class="d" x="332.75 339.75">00</tspan><tspan x="346.5">Z</tspan> <tspan class="d" x="360.75 367.75">20</tspan><tspan x="374.5 381.5 388.5">Jul</tspan><tspan class="d" x="395.75 402.75">22</tspan> <tspan class="d" x="416.75 423.75">33</tspan><tspan x="430.5 437.5 444.5">-hr</tspan> <tspan x="458.5 465.5 472.5 479.5 486.5">Valid</tspan> <tspan class="d" x="500.75 507.75">09</tspan><tspan x="514.5">Z</tspan> <tspan class="d" x="528.75 535.75">21</tspan><tspan x="542.5 549.5 556.5">Jul</tspan><tspan class="d" x="563.75 570.75">22</tspan> <tspan x="584.5 591.5 598.5 605.5 612.5 619.5 626.5">Olympex</tspan> <tspan x="640.5 647.5 654.5">DOW</tspan> <tspan x="668.5 675.5">WA</tspan></text>
<text class="g" y="26"><tspan class="d" x="46.75 53.75 60.75 67.75 74.75 81.75">220721</tspan><tspan x="88.5">/</tspan><tspan class="d" x="95.75 102.75 109.75 116.75">0900</tspan> <tspan class="d" x="130.75 137.75 144.75 151.75 158.75">99999</tspan> <tspan x="179.5 186.5 193.5 200.5 207.5">DOWLX</tspan> <tspan x="235.5 242.5 249.5 256.5 263.5">CAPE:</tspan> <tspan class="d" x="305.75">0</tspan> <tspan x="319.5 326.5 333.5 340.5 347.5">LIFT:</tspan> <tspan class="d" x="389.75">9</tspan> <tspan x="403.5 410.5 417.5 424.5 431.5">KINX:</tspan> <tspan class="d" x="473.75">0</tspan> <tspan x="487.5 494.5 501.5 508.5 515.5">CINS:</tspan> <tspan class="d" x="557.75">0</tspan> <tspan x="571.5 578.5 585.5 592.5 599.5">LFCV:</tspan> <tspan x="613.5">-</tspan><tspan class="d" x="620.75 627.75 634.75 641.75">9999</tspan></text>
<text class="g" y="56"><tspan class="D" x="19.75">4</tspan><tspan class="D" x="26.75">0</tspan><tspan class="D" x="33.75">0</tspan></text>
<text class="g" y="204"><tspan class="D" x="19.75">5</tspan><tspan class="D" x="26.75">0</tspan><tspan class="D" x="33.75">0</tspan></text>
<text class="g" y="333"><tspan class="D" x="19.75">6</tspan><tspan class="D" x="26.75">0</tspan><tspan class="D" x="33.75">0</tspan></text>
<text class="g" y="447"><tspan class="D" x="19.75">7</tspan><tspan class="D" x="26.75">0</tspan><tspan class="D" x="33.75">0</tspan></text>
<text class="g" y="549"><tspan class="D" x="19.75">8</tspan><tspan class="D" x="26.75">0</tspan><tspan class="D" x="33.75">0</tspan></text>
<text class="g" y="643"><tspan class="D" x="19.75">9</tspan><tspan class="D" x="26.75">0</tspan><tspan class="D" x="33.75">0</tspan></text>
<text class="g" y="731"><tspan class="D" x="11.75">1</tspan><tspan class="D" x="18.75">0</tspan><tspan class="D" x="25.75">0</tspan><tspan class="D" x="32.75">0</tspan></text>
<text class="g" y="787"><tspan class="h" x="36.5">-</tspan><tspan class="D" x="45.75">5</tspan><tspan class="D" x="52.75">0</tspan></text>
<text class="g" y="787"><tspan class="h" x="111.5">-</tspan><tspan class="D" x="120.75">4</tspan><tspan class="D" x="127.75">0</tspan></text>
<text class="g" y="787"><tspan class="h" x="185.5">-</tspan><tspan class="D" x="194.75">3</tspan><tspan class="D" x="201.75">0</tspan></text>
<text class="g" y="787"><tspan class="h" x="260.5">-</tspan><tspan class="D" x="269.75">2</tspan><tspan class="D" x="276.75">0</tspan></text>
<text class="g" y="787"><tspan class="h" x="334.5">-</tspan><tspan class="D" x="343.75">1</tspan><tspan class="D" x="350.75">0</tspan></text>
<text class="g" y="787"><tspan class="D" x="418.75">0</tspan></text>
<text class="g" y="787"><tspan class="D" x="489.25">1</tspan><tspan class="D" x="496.25">0</tspan></text>
<text class="g" y="787"><tspan class="D" x="564.25">2</tspan><tspan class="D" x="571.25">0</tspan></text>
<text class="g" y="787"><tspan class="D" x="638.25">3</tspan><tspan class="D" x="645.25">0</tspan></text>
<text class="g" y="787"><tspan class="D" x="713.25">4</tspan><tspan class="D" x="720.25">0</tspan></text>
</g>
</svg>
</body></html>
